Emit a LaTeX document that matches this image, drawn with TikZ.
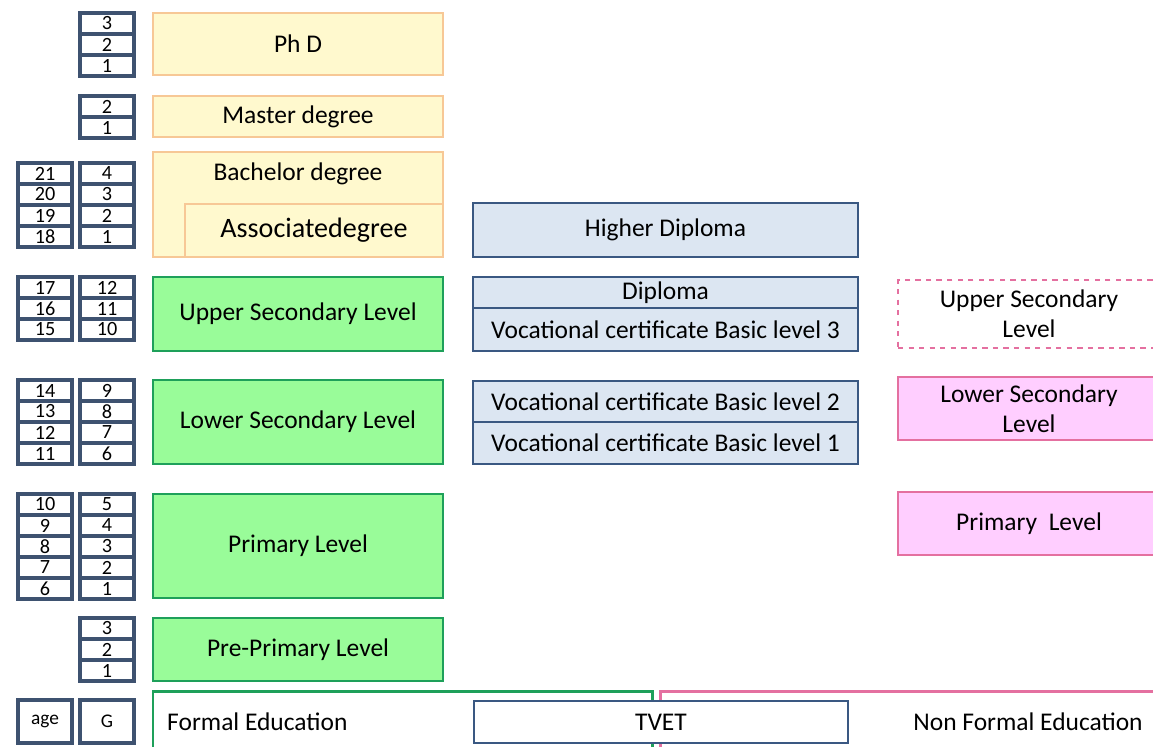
\documentclass[tikz,border=0pt]{standalone}
\usepackage{fontspec}
\setmainfont{Carlito}

\definecolor{cellline}{RGB}{62,82,112}
\definecolor{degfill}{RGB}{255,249,206}
\definecolor{degline}{RGB}{247,200,150}
\definecolor{genfill}{RGB}{153,252,153}
\definecolor{genline}{RGB}{30,160,90}
\definecolor{vocfill}{RGB}{220,230,242}
\definecolor{vocline}{RGB}{58,88,130}
\definecolor{nfefill}{RGB}{255,206,255}
\definecolor{nfeline}{RGB}{228,112,160}

% one column of year cells: name, x, top, values
\newcommand{\yearcol}[4]{%
	\foreach \v [count=\i] in {#4}
		\node[cell] (#1\i) at (#2,{#3+10.5+21*(\i-1)}) {\v};
}

\begin{document}
\begin{tikzpicture}[x=0.02cm,y=-0.02cm]
				\tikzstyle{cell}=[draw=cellline,line width=1.9pt,fill=white,minimum width=1.08cm,minimum height=0.42cm,inner sep=0pt,font=\fontsize{11.5}{12}\selectfont]
				\tikzstyle{lvl}=[line width=1.4pt,inner sep=0pt,align=center,font=\fontsize{14.5}{17}\selectfont]
				\tikzstyle{deg}=[lvl,draw=degline,fill=degfill,minimum width=5.8cm]
				\tikzstyle{gen}=[lvl,draw=genline,fill=genfill,minimum width=5.8cm]
				\tikzstyle{voc}=[lvl,draw=vocline,fill=vocfill,minimum width=7.7cm]
				\tikzstyle{nfe}=[lvl,draw=nfeline,fill=nfefill,minimum width=5.24cm]
				\tikzstyle{frame}=[line width=1.7pt]

				\clip (0,0) rectangle (1153,747);

				% age and grade columns
				\yearcol{gphd}{107}{13}{3,2,1}
				\yearcol{gmas}{107}{96}{2,1}
				\yearcol{abac}{45}{163}{21,20,19,18}
				\yearcol{gbac}{107}{163}{4,3,2,1}
				\yearcol{aups}{45}{277}{17,16,15}
				\yearcol{gups}{107}{277}{12,11,10}
				\yearcol{alos}{45}{380}{14,13,12,11}
				\yearcol{glos}{107}{380}{9,8,7,6}
				\yearcol{apri}{45}{494}{10,9,8,7,6}
				\yearcol{gpri}{107}{494}{5,4,3,2,1}
				\yearcol{gpre}{107}{618}{3,2,1}

				% formal education
				\node[deg,minimum height=1.24cm] (phd) at (298,44) {Ph D};
				\node[deg,minimum height=0.82cm] (master) at (298,116.5) {Master degree};
				\node[deg,minimum height=2.1cm] (bachelor) at (298,204.5) {};
				\node[lvl] (bachtxt) at (298,174) {Bachelor degree};
				\node[deg,minimum width=5.16cm,minimum height=1.06cm,font=\fontsize{16}{18}\selectfont] (assoc) at (314,230.5) {Associatedegree};
				\node[gen,minimum height=1.48cm] (upper) at (298,314) {Upper Secondary Level};
				\node[gen,minimum height=1.68cm] (lower) at (298,422) {Lower Secondary Level};
				\node[gen,minimum height=2.08cm] (primary) at (298,546) {Primary Level};
				\node[gen,minimum height=1.26cm] (preprim) at (298,649.5) {Pre-Primary Level};

				% TVET
				\node[voc,minimum height=1.08cm] (hdip) at (665.5,230) {Higher Diploma};
				\node[voc,minimum height=0.62cm] (dip) at (665.5,292.5) {Diploma};
				\node[voc,minimum height=0.86cm] (voc3) at (665.5,329.5) {Vocational certificate Basic level 3};
				\node[voc,minimum height=0.82cm] (voc2) at (665.5,401.5) {Vocational certificate Basic level 2};
				\node[voc,minimum height=0.84cm] (voc1) at (665.5,443) {Vocational certificate Basic level 1};

				% non formal education
				\node[nfe,fill=white,dashed,minimum height=1.36cm] (nfeup) at (1029,314) {Upper Secondary\\Level};
				\node[nfe,minimum height=1.26cm] (nfelow) at (1029,408.5) {Lower Secondary\\Level};
				\node[nfe,minimum height=1.26cm] (nfepri) at (1029,523.5) {Primary~~Level};

				% legend
				\coordinate (fa) at (153,760);
				\coordinate (fb) at (652,760);
				\coordinate (na) at (660,760);
				\coordinate (nb) at (1170,691);
				\draw[frame,genline] (fa) |- (402,691) -| (fb);
				\draw[frame,nfeline] (na) |- (nb);
				\node[cell,minimum height=0.86cm,font=\fontsize{11}{12}\selectfont] (age) at (45,721.5) {age};
				\node[cell,minimum height=0.86cm,font=\fontsize{11}{12}\selectfont] (grade) at (107,721.5) {G};
				\node[lvl,anchor=west] (formal) at (166,722) {Formal Education};
				\node[voc,fill=white,minimum width=7.48cm,minimum height=0.84cm] (tvet) at (661,722) {TVET};
				\node[lvl] (nonformal) at (1028,722) {Non Formal Education};
			\end{tikzpicture}
\end{document}
